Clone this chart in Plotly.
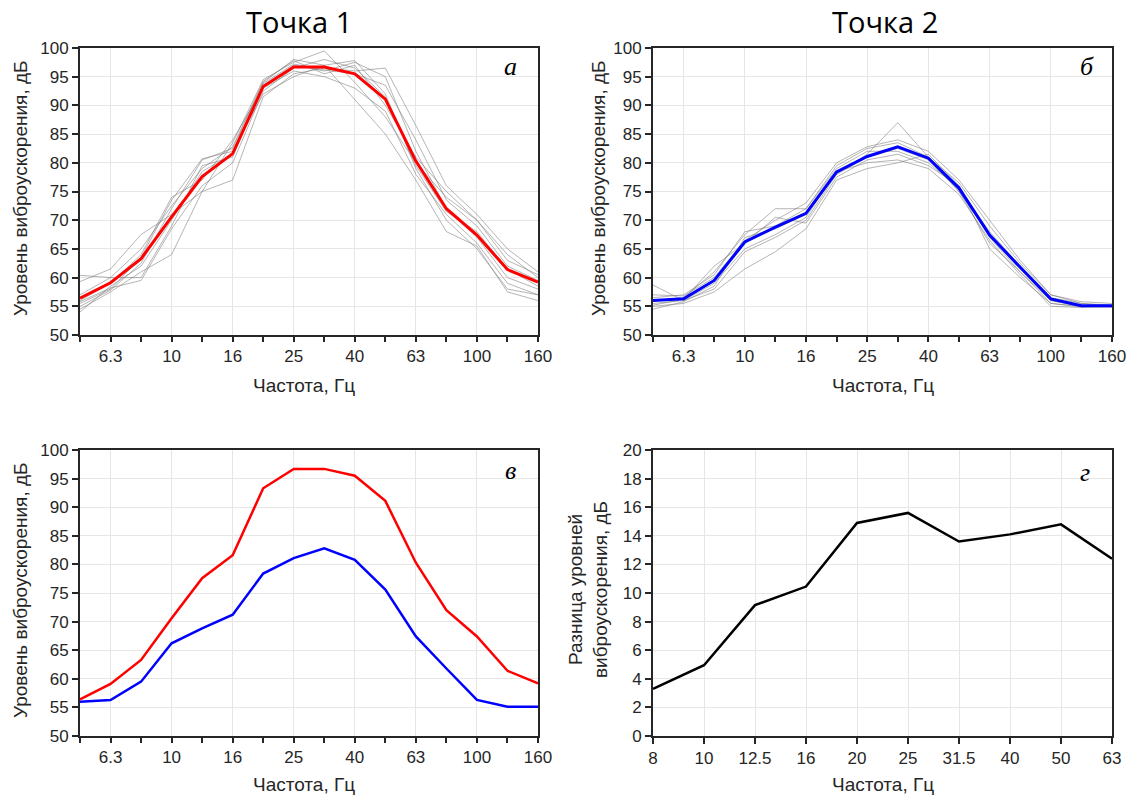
import plotly.graph_objects as go

# ------------------------------------------------------------------------------
# 1/3-octave bands

freqs = ["5", "6.3", "8", "10", "12.5", "16", "20", "25", "31.5", "40",
         "50", "63", "80", "100", "125", "160"]
freqs_diff = ["8", "10", "12.5", "16", "20", "25", "31.5", "40", "50", "63"]

# Mean levels, dB
point1_mean = [56.4, 59.1, 63.3, 70.6, 77.6, 81.6, 93.3, 96.7, 96.7, 95.5,
               91.1, 80.3, 72.0, 67.4, 61.4, 59.2]
point2_mean = [56.0, 56.3, 59.5, 66.2, 68.8, 71.2, 78.4, 81.1, 82.8, 80.8,
               75.6, 67.4, 61.8, 56.3, 55.1, 55.1]

# Difference of levels (point 1 - point 2), 8..63 Hz
level_diff = [3.3, 4.95, 9.15, 10.45, 14.9, 15.6, 13.6, 14.1, 14.8, 12.4]

# Single measurements, point 1
p1_runs = [
    [55.0, 57.8, 62.5, 72.0, 80.5, 82.5, 94.0, 98.0, 97.0, 97.8, 92.0, 79.0, 70.0, 65.0, 58.0, 57.0],
    [60.4, 60.0, 60.0, 69.0, 79.5, 81.0, 93.5, 97.0, 96.0, 97.5, 95.0, 82.0, 72.0, 67.0, 60.0, 58.0],
    [59.3, 61.5, 67.5, 71.0, 75.0, 83.5, 94.5, 97.5, 99.5, 94.0, 88.0, 80.0, 74.0, 70.0, 63.0, 60.5],
    [54.5, 57.5, 61.0, 64.0, 75.0, 77.0, 91.5, 95.5, 96.5, 96.0, 96.5, 86.5, 76.0, 71.0, 65.0, 61.0],
    [55.5, 58.0, 63.5, 73.5, 80.7, 82.0, 92.0, 95.0, 97.0, 91.0, 85.0, 77.0, 68.0, 65.5, 57.5, 56.0],
    [56.0, 59.0, 64.0, 74.0, 77.0, 84.0, 93.0, 96.0, 95.0, 93.0, 89.0, 78.0, 71.0, 66.0, 59.0, 57.0],
    [54.0, 58.5, 62.0, 70.0, 78.5, 81.5, 93.8, 97.2, 96.2, 95.5, 93.5, 84.0, 73.5, 69.0, 62.0, 59.5],
    [55.8, 58.2, 59.5, 68.5, 76.0, 80.0, 92.5, 96.5, 98.0, 96.5, 91.5, 79.5, 71.5, 68.0, 61.5, 58.5],
    [57.0, 60.0, 65.0, 72.5, 79.0, 82.8, 94.2, 97.8, 95.5, 97.0, 90.0, 81.0, 75.0, 70.0, 64.0, 60.0],
]

# Single measurements, point 2
p2_runs = [
    [58.7, 56.0, 58.0, 64.5, 67.0, 70.0, 78.0, 81.5, 87.0, 81.0, 76.5, 69.0, 62.5, 57.0, 55.5, 55.0],
    [55.0, 55.5, 57.5, 61.5, 64.5, 68.5, 77.0, 79.0, 80.0, 81.5, 76.0, 67.0, 61.0, 56.0, 55.0, 55.0],
    [56.5, 57.0, 60.5, 68.0, 69.0, 72.0, 79.5, 82.5, 83.5, 81.0, 75.0, 66.0, 61.0, 55.5, 55.0, 54.8],
    [56.0, 56.5, 61.0, 67.5, 72.0, 72.0, 79.0, 82.0, 82.0, 80.0, 75.5, 68.0, 62.0, 56.5, 55.5, 55.2],
    [55.5, 56.0, 59.0, 65.0, 67.5, 70.5, 78.5, 80.0, 80.5, 79.0, 74.5, 66.5, 60.5, 55.0, 54.8, 55.0],
    [57.0, 56.8, 60.0, 66.5, 70.0, 73.0, 80.0, 82.8, 84.0, 82.0, 77.0, 70.0, 63.0, 57.0, 55.8, 55.5],
    [54.5, 55.8, 58.5, 67.0, 68.5, 71.0, 78.0, 81.0, 82.5, 80.5, 75.0, 67.5, 61.5, 56.0, 55.0, 55.0],
    [55.2, 56.2, 62.0, 66.0, 70.5, 69.5, 77.5, 80.5, 81.5, 79.5, 76.0, 65.0, 60.0, 55.5, 54.9, 55.0],
]

# ------------------------------------------------------------------------------

FONT = "Liberation Sans"
AXCOL = "#262626"
GRID = "#e6e6e6"

x_idx = list(range(len(freqs)))
xd_idx = list(range(len(freqs_diff)))

fig = go.Figure()

# gray single runs
for run in p1_runs:
    fig.add_trace(go.Scatter(x=x_idx, y=run, mode="lines", xaxis="x", yaxis="y",
                             line=dict(color="rgba(120,120,120,0.55)", width=1), showlegend=False))
for run in p2_runs:
    fig.add_trace(go.Scatter(x=x_idx, y=run, mode="lines", xaxis="x2", yaxis="y2",
                             line=dict(color="rgba(120,120,120,0.55)", width=1), showlegend=False))

# means
fig.add_trace(go.Scatter(x=x_idx, y=point1_mean, mode="lines", xaxis="x", yaxis="y",
                         line=dict(color="#ff0000", width=3), showlegend=False))
fig.add_trace(go.Scatter(x=x_idx, y=point2_mean, mode="lines", xaxis="x2", yaxis="y2",
                         line=dict(color="#0000ff", width=3), showlegend=False))
fig.add_trace(go.Scatter(x=x_idx, y=point1_mean, mode="lines", xaxis="x3", yaxis="y3",
                         line=dict(color="#ff0000", width=2.5), showlegend=False))
fig.add_trace(go.Scatter(x=x_idx, y=point2_mean, mode="lines", xaxis="x3", yaxis="y3",
                         line=dict(color="#0000ff", width=2.5), showlegend=False))

# difference
fig.add_trace(go.Scatter(x=xd_idx, y=level_diff, mode="lines", xaxis="x4", yaxis="y4",
                         line=dict(color="#000000", width=2.5), showlegend=False))

# ------------------------------------------------------------------------------
# axes

left_dom = [80 / 1128, 538 / 1128]
right_dom = [653 / 1128, 1112 / 1128]
top_dom = [1 - 335 / 800, 1 - 48 / 800]
bot_dom = [1 - 736 / 800, 1 - 450 / 800]

tick_font = dict(family=FONT, size=17, color=AXCOL)

def freq_axis(dom, anchor):
    return dict(domain=dom, anchor=anchor, range=[0, 15], automargin=False,
                tickmode="array", tickvals=x_idx[1::2], ticktext=freqs[1::2],
                ticks="outside", ticklen=5, tickwidth=1.5, tickcolor=AXCOL,
                minor=dict(dtick=1, tick0=0, ticks="outside", ticklen=5,
                           tickwidth=1.5, tickcolor=AXCOL, showgrid=False),
                showgrid=True, gridcolor=GRID, gridwidth=1,
                showline=True, linecolor=AXCOL, linewidth=2, mirror=True,
                zeroline=False, tickfont=tick_font)

def level_axis(dom, anchor, rng, step):
    return dict(domain=dom, anchor=anchor, range=rng, dtick=step, tick0=0,
                automargin=False,
                ticks="outside", ticklen=6, tickwidth=1.5, tickcolor=AXCOL,
                showgrid=True, gridcolor=GRID, gridwidth=1,
                showline=True, linecolor=AXCOL, linewidth=2, mirror=True,
                zeroline=False, tickfont=tick_font)

diff_x = dict(domain=right_dom, anchor="y4", range=[0, 9], automargin=False,
              tickmode="array", tickvals=xd_idx, ticktext=freqs_diff,
              ticks="outside", ticklen=6, tickwidth=1.5, tickcolor=AXCOL,
              showgrid=True, gridcolor=GRID, gridwidth=1,
              showline=True, linecolor=AXCOL, linewidth=2, mirror=True,
              zeroline=False, tickfont=tick_font)

# ------------------------------------------------------------------------------
# texts

title_font = dict(family="Open Sans", size=29, color="black")
lab_font = dict(family=FONT, size=19, color=AXCOL)
letter_font = dict(family="Liberation Serif", size=26, color="black")

ann = [
    dict(text="Точка 1", x=(left_dom[0] + left_dom[1]) / 2 - 10 / 1128, y=1 - 22 / 800, font=title_font),
    dict(text="Точка 2", x=(right_dom[0] + right_dom[1]) / 2 + 2 / 1128, y=1 - 22 / 800, font=title_font),
    dict(text="Частота, Гц", x=(left_dom[0] + left_dom[1]) / 2 - 5 / 1128, y=1 - 386 / 800, font=lab_font),
    dict(text="Частота, Гц", x=(right_dom[0] + right_dom[1]) / 2, y=1 - 386 / 800, font=lab_font),
    dict(text="Частота, Гц", x=(left_dom[0] + left_dom[1]) / 2 - 5 / 1128, y=1 - 784 / 800, font=lab_font),
    dict(text="Частота, Гц", x=(right_dom[0] + right_dom[1]) / 2, y=1 - 784 / 800, font=lab_font),
    dict(text="Уровень виброускорения, дБ", x=20 / 1128, y=1 - 188 / 800, textangle=-90, font=lab_font),
    dict(text="Уровень виброускорения, дБ", x=598 / 1128, y=1 - 188 / 800, textangle=-90, font=lab_font),
    dict(text="Уровень виброускорения, дБ", x=20 / 1128, y=1 - 590 / 800, textangle=-90, font=lab_font),
    dict(text="Разница уровней<br>виброускорения, дБ", x=588 / 1128, y=1 - 590 / 800,
         textangle=-90, font=lab_font),
    dict(text="<i>а</i>", x=510 / 1128, y=1 - 66 / 800, font=letter_font),
    dict(text="<i>б</i>", x=1087 / 1128, y=1 - 66 / 800, font=letter_font),
    dict(text="<i>в</i>", x=510 / 1128, y=1 - 470 / 800, font=letter_font),
    dict(text="<i>г</i>", x=1085 / 1128, y=1 - 472 / 800, font=letter_font),
]
for a in ann:
    a.update(xref="paper", yref="paper", showarrow=False, xanchor="center", yanchor="middle")

fig.update_layout(
    width=1128, height=800,
    margin=dict(l=0, r=0, t=0, b=0, autoexpand=False),
    paper_bgcolor="white", plot_bgcolor="white",
    xaxis=freq_axis(left_dom, "y"),
    yaxis=level_axis(top_dom, "x", [50, 100], 5),
    xaxis2=freq_axis(right_dom, "y2"),
    yaxis2=level_axis(top_dom, "x2", [50, 100], 5),
    xaxis3=freq_axis(left_dom, "y3"),
    yaxis3=level_axis(bot_dom, "x3", [50, 100], 5),
    xaxis4=diff_x,
    yaxis4=level_axis(bot_dom, "x4", [0, 20], 2),
    annotations=ann,
)

# page body has a default 8px margin, drop it so the figure sits at 0,0
fig.write_html("out.html", config={"displayModeBar": False},
               post_script="document.body.style.margin='0px';")
